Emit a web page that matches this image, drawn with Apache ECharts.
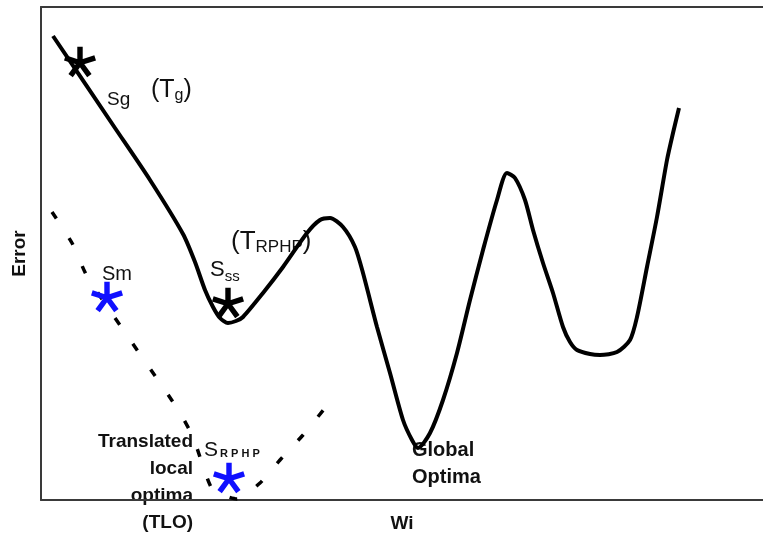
<!DOCTYPE html>
<html>
<head>
<meta charset="utf-8">
<script src="https://cdn.jsdelivr.net/npm/echarts@6/dist/echarts.min.js"></script>
<style>
  html, body { margin: 0; padding: 0; background: #fff; }
  #chart { width: 763px; height: 538px; }
</style>
</head>
<body>
<div id="chart"></div>
<script>
// Error surface over the weight Wi
const errorCurve = [
  [12,464],[74,372],[109,320],[142,266],[154,238],[164,210],[172,193],[179,182],
  [187,177],[195,179],[202,183],[222,207],[242,233],[266,267],[279,280],[289,282],
  [302,273],[314,253],[322,227],[336,173],[349,127],[362,80],[371,60],[377,52],
  [389,67],[402,100],[416,147],[429,200],[442,250],[456,300],[466,327],[474,322],
  [484,300],[492,270],[502,237],[512,207],[522,173],[529,158],[536,150],[549,146],
  [559,145],[576,148],[589,160],[596,183],[606,233],[616,283],[626,340],[632,367],[638,392]
];
// Translated error surface (dashed)
const translatedCurve = [
  [11,288],[31,257],[47,222],[136,92],[152,63],[161,37],[172,10],[196,1],
  [219,17],[239,40],[262,65],[284,92]
];
// Search points
const blackPoints = [[39,438],[187,197]];   // Sg, Sss
const bluePoints  = [[66,203],[188,22]];    // Sm, S_RPHP

// Five-armed asterisk drawn as a path symbol
function asteriskPath() {
  const arms = 5, w = 0.17, parts = [];
  for (let i = 0; i < arms; i++) {
    const a = -Math.PI / 2 + i * 2 * Math.PI / arms;
    const dx = Math.cos(a), dy = Math.sin(a), px = -dy * w, py = dx * w;
    const pts = [[px, py], [dx + px, dy + py], [dx - px, dy - py], [-px, -py]];
    parts.push('M' + pts.map(p => (p[0] * 50 + 50).toFixed(2) + ' ' + (p[1] * 50 + 50).toFixed(2)).join('L') + 'Z');
  }
  return 'path://' + parts.join(' ');
}
const star = asteriskPath();

const axisColor = '#3a3a3a';
const plain = 'Liberation Sans, Arial, sans-serif';
const bold = { fontFamily: plain, fontWeight: 'bold', fontSize: 19, color: '#111' };
const chart = echarts.init(document.getElementById('chart'), null, { renderer: 'canvas' });

chart.setOption({
  animation: false,
  backgroundColor: '#fff',
  grid: { left: 41, right: 0, top: 7, bottom: 38, containLabel: false, outerBoundsMode: 'none' },
  xAxis: [
    {
      type: 'value', min: 0, max: 722, position: 'bottom',
      name: 'Wi', nameLocation: 'middle', nameGap: 14,
      nameTextStyle: bold,
      axisLine: { show: true, lineStyle: { color: axisColor, width: 2 } },
      axisTick: { show: false }, axisLabel: { show: false }, splitLine: { show: false }
    },
    {
      type: 'value', min: 0, max: 722, position: 'top',
      axisLine: { show: true, onZero: false, lineStyle: { color: axisColor, width: 2 } },
      axisTick: { show: false }, axisLabel: { show: false }, splitLine: { show: false }
    }
  ],
  yAxis: {
    type: 'value', min: 0, max: 493,
    name: 'Error', nameLocation: 'middle', nameGap: 12, nameRotate: 90,
    nameTextStyle: bold,
    axisLine: { show: true, lineStyle: { color: axisColor, width: 2 } },
    axisTick: { show: false }, axisLabel: { show: false }, splitLine: { show: false }
  },
  series: [
    {
      type: 'line', data: errorCurve, smooth: 0.25, showSymbol: false,
      lineStyle: { color: '#000', width: 4 }
    },
    {
      type: 'line', data: translatedCurve, smooth: 0.2, showSymbol: false,
      lineStyle: { color: '#000', width: 3.5, type: [8, 23] }
    },
    {
      type: 'scatter', data: blackPoints, symbol: star, symbolSize: 32, symbolKeepAspect: true,
      itemStyle: { color: '#000', opacity: 1 }, z: 5
    },
    {
      type: 'scatter', data: bluePoints, symbol: star, symbolSize: 32, symbolKeepAspect: true,
      itemStyle: { color: '#1010ff', opacity: 1 }, z: 5
    }
  ],
  graphic: [
    { type: 'text', x: 107, y: 90, style: { text: 'Sg', font: '19px ' + plain, fill: '#111' } },
    { type: 'text', x: 151, y: 76, style: {
        text: '{n|(T}{s|g}{n|)}', fill: '#111',
        rich: { n: { fontSize: 25, fontFamily: plain }, s: { fontSize: 16, fontFamily: plain, padding: [12, 0, 0, 0] } } } },
    { type: 'text', x: 231, y: 228, style: {
        text: '{n|(T}{s|RPHP}{n|)}', fill: '#111',
        rich: { n: { fontSize: 26, fontFamily: plain }, s: { fontSize: 17, fontFamily: plain, padding: [11, 0, 0, 0] } } } },
    { type: 'text', x: 210, y: 256, style: {
        text: '{n|S}{s|ss}', fill: '#111',
        rich: { n: { fontSize: 22, fontFamily: plain }, s: { fontSize: 15, fontFamily: plain, padding: [13, 0, 0, 0] } } } },
    { type: 'text', x: 102, y: 264, style: { text: 'Sm', font: '20px ' + plain, fill: '#111' } },
    { type: 'text', x: 204, y: 440, style: {
        text: '{n|S}{s|R P H P}', fill: '#111',
        rich: { n: { fontSize: 21, fontFamily: plain }, s: { fontSize: 11, fontWeight: 'bold', fontFamily: plain, padding: [7, 0, 0, 2] } } } },
    { type: 'text', x: 193, y: 428, style: {
        text: 'Translated\nlocal\noptima\n(TLO)', align: 'right', lineHeight: 27,
        font: 'bold 19px ' + plain, fill: '#111' } },
    { type: 'text', x: 412, y: 437, style: {
        text: 'Global\nOptima', lineHeight: 27, font: 'bold 20px ' + plain, fill: '#111' } }
  ]
});
</script>
</body>
</html>
